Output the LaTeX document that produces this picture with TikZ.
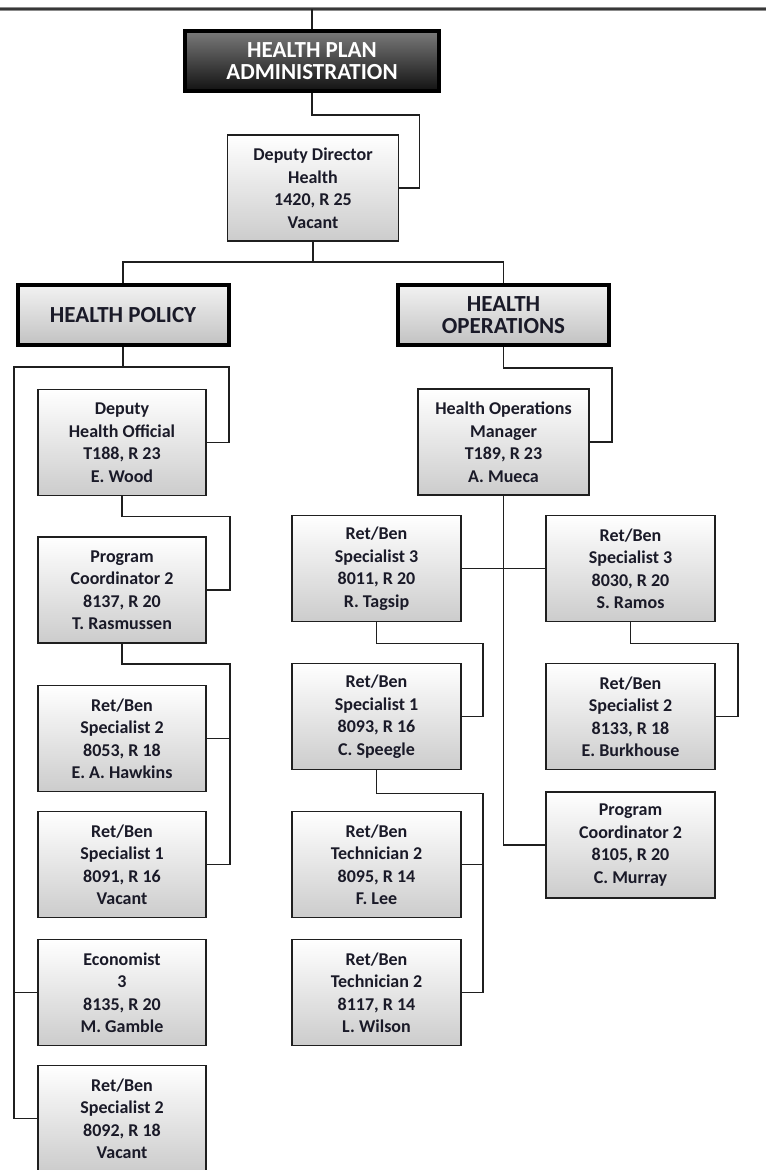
\documentclass[tikz,border=0pt]{standalone}
\usepackage{fontspec}
\setmainfont{Carlito}
\usetikzlibrary{calc}
\definecolor{txt}{HTML}{1A1A28}
\begin{document}
\begin{tikzpicture}[x=1pt,y=-1pt,
  box/.style={draw=black!88, line width=1.6pt, top color=white, bottom color=black!20,
    minimum width=169pt, minimum height=106pt, align=center, inner sep=0pt,
    text=txt, font=\bfseries\fontsize{18}{22.5}\selectfont},
  head/.style={draw=black, line width=4pt, top color=black!5, bottom color=black!24,
    minimum width=211pt, minimum height=60pt, align=center, inner sep=0pt,
    text=txt, font=\bfseries\fontsize{23}{22}\selectfont},
  tophead/.style={head, top color=black!52, bottom color=black!93, text=white,
    minimum width=254pt},
  conn/.style={line width=1.6pt, draw=black!88}]
\useasboundingbox (0,0) rectangle (766,1170);
\clip (0,0) rectangle (766,1170);
% top rule
\coordinate (tl) at (0,9);
\coordinate (tr) at (766,9);
\draw[line width=3.6pt, black!45] (tl) -- (tr);
\draw[line width=1.4pt, black!78] (tl) -- (tr);
% top levels
\node[tophead] (hpa) at (312,61) {HEALTH PLAN\\ADMINISTRATION};
\node[box, minimum width=171pt] (dd) at (313,188) {Deputy Director\\Health\\1420, R 25\\Vacant};
\node[head] (hp) at (123,315) {HEALTH POLICY};
\node[head] (ho) at (503.5,315) {HEALTH\\OPERATIONS};
% policy column
\node[box, minimum width=168pt] (dho) at (122,442.5) {Deputy\\Health Official\\T188, R 23\\E. Wood};
\node[box, minimum width=168pt] (pc2) at (122,590) {Program\\Coordinator 2\\8137, R 20\\T. Rasmussen};
\node[box, minimum width=168pt] (hawk) at (122,738.5) {Ret/Ben\\Specialist 2\\8053, R 18\\E. A. Hawkins};
\node[box, minimum width=168pt] (sp1) at (122,864.5) {Ret/Ben\\Specialist 1\\8091, R 16\\Vacant};
\node[box, minimum width=168pt] (econ) at (122,992.5) {Economist\\3\\8135, R 20\\M. Gamble};
\node[box, minimum width=168pt] (sptwo) at (122,1118.5) {Ret/Ben\\Specialist 2\\8092, R 18\\Vacant};
% operations column
\node[box, minimum width=171pt] (hom) at (503.5,442) {Health Operations\\Manager\\T189, R 23\\A. Mueca};
\node[box] (tag) at (376.5,568.5) {Ret/Ben\\Specialist 3\\8011, R 20\\R. Tagsip};
\node[box] (ram) at (630.5,568.5) {Ret/Ben\\Specialist 3\\8030, R 20\\S. Ramos};
\node[box] (spe) at (376.5,716.5) {Ret/Ben\\Specialist 1\\8093, R 16\\C. Speegle};
\node[box] (burk) at (630.5,716.5) {Ret/Ben\\Specialist 2\\8133, R 18\\E. Burkhouse};
\node[box] (mur) at (630.5,845) {Program\\Coordinator 2\\8105, R 20\\C. Murray};
\node[box] (lee) at (376.5,864.5) {Ret/Ben\\Technician 2\\8095, R 14\\F. Lee};
\node[box] (wil) at (376.5,992.5) {Ret/Ben\\Technician 2\\8117, R 14\\L. Wilson};
% connectors
\draw[conn] (hpa.north) -- (hpa.north |- tl);
\draw[conn] (hpa.south) -- ++(0,22) -| ($(dd.east)+(20,0)$) -- (dd.east);
\draw[conn] (dd.south) -- ++(0,20) coordinate (j1);
\draw[conn] (hp.north) |- (j1) -| (ho.north);
\coordinate (hpR) at ($(hp.south)+(106,20)$);
\coordinate (hpL) at ($(hp.south)+(-109,20)$);
\draw[conn] (hp.south) -- (hp.south |- hpR);
\draw[conn] (dho.east) -| (hpR) -- (hpL) |- (sptwo.west);
\draw[conn] (econ.west) -- (econ.west -| hpL);
\draw[conn] (dho.south) -- ++(0,20) -| ($(pc2.east)+(23,0)$) -- (pc2.east);
\draw[conn] (pc2.south) -- ++(0,20) -| ($(sp1.east)+(23,0)$) -- (sp1.east);
\draw[conn] (hawk.east) -- ++(23,0);
\draw[conn] (ho.south) -- ++(0,21) -| ($(hom.east)+(22,0)$) -- (hom.east);
\draw[conn] (hom.south) |- (mur.west);
\draw[conn] (tag.east) -- (ram.west);
\draw[conn] (tag.south) -- ++(0,21) -| ($(spe.east)+(21,0)$) -- (spe.east);
\draw[conn] (ram.south) -- ++(0,21) -| ($(burk.east)+(22,0)$) -- (burk.east);
\draw[conn] (spe.south) -- ++(0,23) -| ($(wil.east)+(21,0)$) -- (wil.east);
\draw[conn] (lee.east) -- ++(21,0);
\end{tikzpicture}
\end{document}
